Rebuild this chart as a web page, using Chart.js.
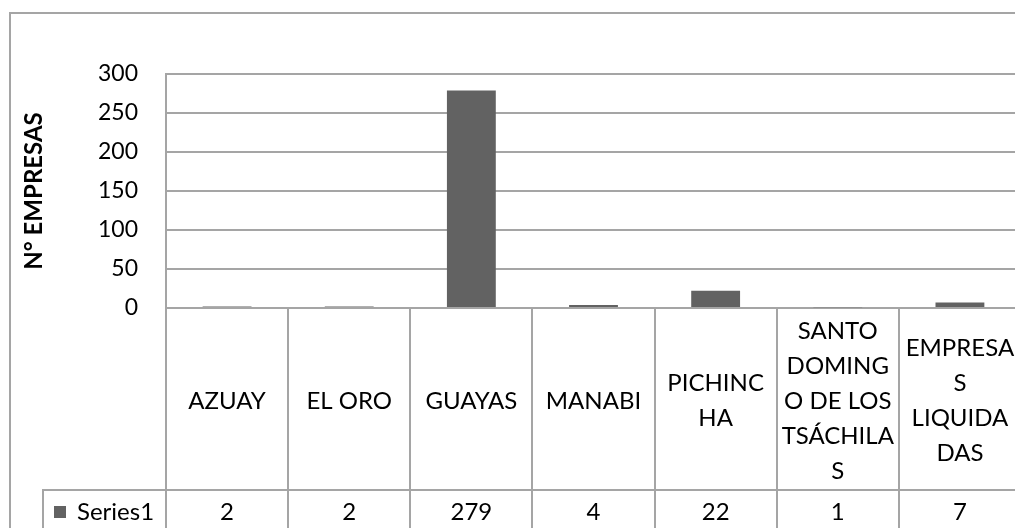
<!DOCTYPE html>
<html>
<head>
<meta charset="utf-8">
<script src="https://cdn.jsdelivr.net/npm/chart.js@4/dist/chart.umd.min.js"></script>
<style>
html,body{margin:0;padding:0;overflow:hidden;background:#fff;width:1015px;height:528px;}
#wrap{position:absolute;left:0;top:0;width:1030px;height:545px;}
</style>
</head>
<body>
<div id="wrap"><canvas id="c" width="1030" height="545"></canvas></div>
<script>
// ---- data ----
const categories = ['AZUAY', 'EL ORO', 'GUAYAS', 'MANABI', 'PICHINCHA', 'SANTO DOMINGO DE LOS TSÁCHILAS', 'EMPRESAS LIQUIDADAS'];
const categoryLines = [['AZUAY'], ['EL ORO'], ['GUAYAS'], ['MANABI'], ['PICHINC', 'HA'], ['SANTO', 'DOMING', 'O DE LOS', 'TSÁCHILA', 'S'], ['EMPRESA', 'S', 'LIQUIDA', 'DAS']];
const seriesName = 'Series1';
const values = [2, 2, 279, 4, 22, 1, 7];
const yMin = 0, yMax = 300, yStep = 50;
const yTitle = 'N° EMPRESAS';

// ---- style ----
const LINE = '#a5a5a5';
const BAR = '#626262';
const FONT = 'Lato';
const HEADER_H = 182;   // height of category row of the data table
const LINE_H = 35;

const tablePlugin = {
  id: 'dataTable',
  beforeDraw(chart) {
    const ctx = chart.ctx;
    ctx.save();
    ctx.strokeStyle = LINE;
    ctx.lineWidth = 2;
    ctx.beginPath();
    ctx.moveTo(10, 13); ctx.lineTo(chart.width, 13);
    ctx.moveTo(10, 12); ctx.lineTo(10, chart.height);
    ctx.stroke();
    ctx.restore();
  },
  afterDraw(chart) {
    const ctx = chart.ctx;
    const xs = chart.scales.x;
    const area = chart.chartArea;
    const rowY = area.bottom + HEADER_H;
    const legendLeft = 43;
    ctx.save();
    ctx.strokeStyle = LINE;
    ctx.lineWidth = 2;
    ctx.beginPath();
    ctx.moveTo(legendLeft, rowY); ctx.lineTo(chart.width, rowY);
    ctx.moveTo(legendLeft, rowY - 1); ctx.lineTo(legendLeft, chart.height);
    ctx.stroke();

    ctx.fillStyle = '#000';
    ctx.font = '24px ' + FONT;
    ctx.textAlign = 'center';
    ctx.textBaseline = 'middle';
    const headerMid = area.bottom + HEADER_H / 2 + 2;
    categoryLines.forEach((lines, i) => {
      const cx = xs.getPixelForValue(i);
      const start = headerMid - (lines.length - 1) * LINE_H / 2;
      lines.forEach((t, j) => ctx.fillText(t, cx, start + j * LINE_H));
    });
    const valMid = rowY + 22;
    values.forEach((v, i) => {
      ctx.fillText(String(v), xs.getPixelForValue(i), valMid);
    });
    // legend key
    ctx.fillStyle = BAR;
    ctx.fillRect(54, valMid - 6, 12, 12);
    ctx.fillStyle = '#000';
    ctx.textAlign = 'left';
    ctx.fillText(seriesName, 77, valMid);
    ctx.restore();
  }
};

function make() {
  new Chart(document.getElementById('c'), {
    type: 'bar',
    data: {
      labels: categories,
      datasets: [{
        label: seriesName,
        data: values,
        backgroundColor: BAR,
        borderWidth: 0,
        barPercentage: 0.4,
        categoryPercentage: 1.0
      }]
    },
    options: {
      responsive: false,
      animation: false,
      devicePixelRatio: 1,
      layout: { padding: { left: 0, top: 74, right: 9, bottom: 0 } },
      plugins: { legend: { display: false }, tooltip: { enabled: false }, title: { display: false } },
      scales: {
        x: {
          type: 'category',
          ticks: { display: false },
          grid: { offset: true, drawOnChartArea: false, drawTicks: true, tickLength: 237, color: LINE, lineWidth: 2 },
          border: { display: true, color: LINE, width: 2 },
          afterFit(s) { s.height = 237; }
        },
        y: {
          min: yMin, max: yMax,
          ticks: { stepSize: yStep, font: { family: FONT, size: 23 }, color: '#000', padding: 28 },
          grid: { color: LINE, lineWidth: 2, drawTicks: false },
          border: { display: true, color: LINE, width: 2 },
          title: { display: true, text: yTitle, color: '#000', font: { family: FONT, size: 24, weight: 'bold' }, padding: { top: 20, bottom: 0 } },
          afterFit(s) { s.width = 166; }
        }
      }
    },
    plugins: [tablePlugin]
  });
}
const fl = document.fonts ? Promise.all([document.fonts.load('24px Lato'), document.fonts.load('bold 24px Lato')]).catch(() => {}) : Promise.resolve();
fl.then(make, make);
</script>
</body>
</html>
